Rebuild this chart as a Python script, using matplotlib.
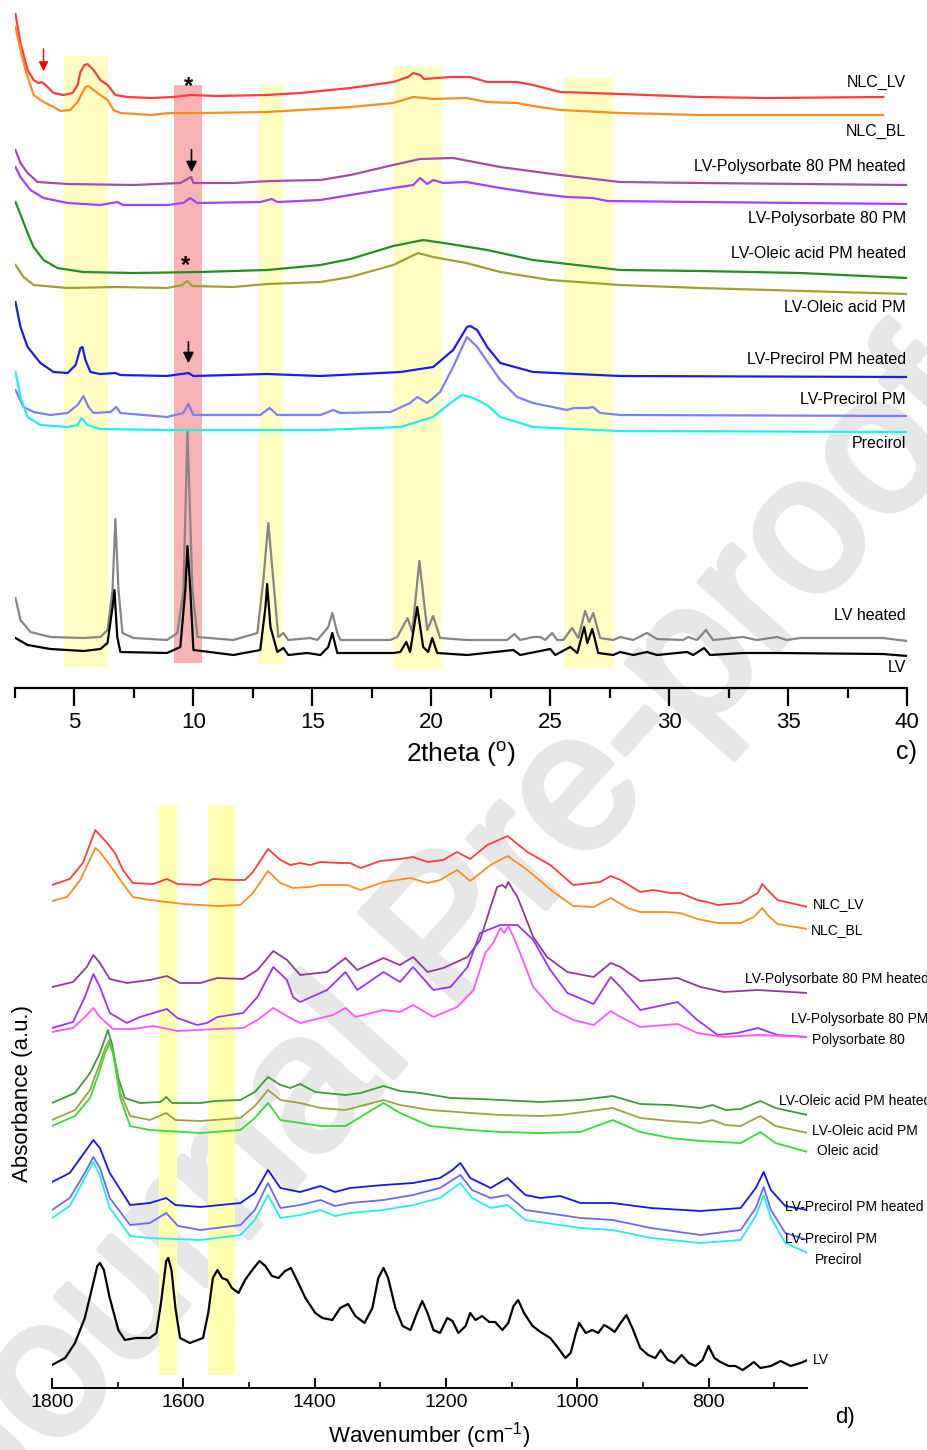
import matplotlib
matplotlib.use("Agg")
import matplotlib.pyplot as plt
import matplotlib.patheffects as pe

plt.rcParams['font.family'] = ['Liberation Sans', 'DejaVu Sans']

# ---------------- XRD (panel c) ----------------
tt_nlc_lv = [2.52, 2.73, 3.03, 3.28, 3.49, 3.61, 3.74, 3.87, 4.12, 4.54, 4.92, 5.13, 5.25, 5.42, 5.55, 5.67, 5.80,
             6.09, 6.39, 6.72, 7.23, 8.19, 9.16, 9.87, 11.0, 13.1, 14.5, 16.6, 18.4, 19.03, 19.24, 19.53, 19.7,
             20.8, 21.64, 22.35, 23.61, 24.28, 25.42, 27.94, 31.3, 34.1, 39.0]
i_nlc_lv = [674, 645, 618, 608, 605, 606, 604, 601, 595, 593, 595, 603, 616, 623, 624, 621, 618,
            608, 603, 593, 591, 590, 591, 593, 592, 593, 595, 600, 606, 611, 615, 613, 609,
            611, 611, 606, 606, 603, 596, 594, 591, 590, 591]

tt_nlc_bl = [2.52, 2.73, 2.94, 3.28, 3.70, 4.12, 4.41, 4.83, 5.13, 5.46, 5.59, 5.80, 6.09, 6.39, 6.64, 6.93,
             8.19, 9.03, 10.29, 13.1, 14.5, 16.6, 18.4, 19.24, 20.08, 21.47, 22.35, 23.61, 24.28, 25.42,
             27.94, 31.3, 39.0]
i_nlc_bl = [661, 638, 618, 593, 586, 581, 577, 578, 586, 601, 602, 598, 593, 588, 578, 575,
            573, 575, 575, 576, 578, 581, 585, 591, 589, 590, 586, 585, 582, 578,
            575, 573, 573]

tt_ps_heat = [2.52, 2.73, 3.03, 3.45, 4.71, 7.48, 9.45, 9.74, 9.91, 10.0, 11.68, 13.24, 15.34, 16.6, 18.4,
              19.53, 20.92, 22.9, 25.42, 27.94, 31.3, 40.0]
i_ps_heat = [538, 525, 515, 506, 504, 503, 505, 509, 511, 505, 505, 507, 508, 513, 523,
             529, 530, 521, 513, 506, 505, 503]

tt_ps_pm = [2.52, 2.73, 3.15, 3.70, 4.71, 6.09, 6.80, 7.05, 8.89, 9.57, 9.87, 10.16, 12.81, 13.3, 13.53,
            15.34, 16.6, 18.4, 19.24, 19.53, 19.83, 20.08, 20.5, 21.47, 22.9, 24.28, 25.7, 26.8, 27.4,
            31.3, 40.0]
i_ps_pm = [521, 511, 498, 490, 485, 483, 486, 483, 483, 485, 490, 485, 486, 489, 486,
           488, 493, 500, 503, 510, 504, 508, 505, 506, 500, 495, 491, 490, 487,
           486, 484]

tt_oa_heat = [2.52, 2.82, 3.03, 3.28, 3.70, 4.28, 5.37, 7.48, 10.29, 13.1, 15.34, 16.6, 18.4, 19.66,
              20.8, 22.35, 24.28, 27.94, 31.3, 35.5, 40.0]
i_oa_heat = [486, 468, 455, 441, 428, 420, 416, 415, 416, 418, 423, 429, 442, 448,
             444, 438, 428, 418, 417, 415, 410]

tt_oa_pm = [2.52, 2.86, 3.28, 4.71, 6.8, 8.89, 9.53, 9.74, 9.95, 11.68, 13.1, 15.34, 16.6, 18.4, 19.45,
            20.08, 21.47, 22.9, 25.0, 27.94, 31.3, 40.0]
i_oa_pm = [423, 411, 403, 400, 401, 400, 403, 407, 402, 401, 404, 406, 411, 423, 435,
           431, 425, 416, 408, 403, 400, 394]

tt_pc_heat = [2.52, 2.73, 3.03, 3.57, 4.12, 4.71, 5.05, 5.25, 5.34, 5.46, 5.67, 6.09, 6.72, 6.93, 8.89,
              9.79, 10.0, 13.1, 15.34, 18.7, 20.08, 20.92, 21.5, 21.64, 21.93, 22.35, 22.9, 24.28,
              27.94, 40.0]
i_pc_heat = [386, 361, 341, 325, 316, 315, 323, 340, 341, 328, 316, 314, 315, 313, 312,
             315, 312, 314, 312, 316, 321, 338, 361, 362, 358, 341, 325, 316,
             312, 311]

tt_pc_pm = [2.52, 2.86, 3.28, 3.99, 4.71, 5.13, 5.38, 5.59, 5.80, 6.51, 6.76, 6.93, 8.89, 9.57, 9.79, 10.0,
            12.81, 13.2, 13.53, 15.34, 15.88, 16.18, 18.28, 19.11, 19.41, 19.83, 20.37, 20.92, 21.5,
            21.93, 22.9, 23.61, 24.28, 25.7, 26.0, 26.56, 26.8, 27.1, 27.94, 40.0]
i_pc_pm = [298, 281, 276, 273, 275, 283, 292, 281, 275, 276, 281, 275, 271, 275, 284, 273,
           273, 280, 273, 273, 278, 275, 276, 285, 291, 285, 296, 321, 351,
           341, 308, 291, 285, 278, 280, 280, 281, 275, 273, 272]

tt_prec = [2.52, 2.73, 3.03, 3.57, 4.71, 5.13, 5.30, 5.55, 6.09, 8.89, 15.34, 18.7, 20.08, 20.8, 21.3,
           21.77, 22.35, 22.9, 24.28, 27.94, 40.0]
i_prec = [316, 291, 271, 263, 261, 263, 270, 263, 259, 258, 258, 261, 271, 285, 293,
          290, 283, 271, 261, 257, 256]

tt_lv_heat = [2.52, 2.73, 3.15, 3.99, 5.38, 6.09, 6.39, 6.60, 6.72, 6.85, 7.02, 7.48, 8.89, 9.33, 9.58,
              9.75, 9.96, 10.17, 11.68, 12.69, 12.94, 13.15, 13.36, 13.57, 13.78, 13.99, 14.91, 15.21,
              15.67, 15.84, 16.05, 16.18, 18.28, 18.57, 19.0, 19.2, 19.5, 19.83, 20.08, 20.37, 21.51,
              23.19, 23.49, 23.74, 24.29, 24.58, 24.79, 25.08, 25.29, 25.55, 25.92, 26.18, 26.47, 26.64,
              26.81, 27.1, 27.65, 27.94, 28.49, 29.07, 29.49, 30.59, 30.8, 31.17, 31.55, 31.85, 33.11,
              33.69, 34.53, 34.95, 35.5, 38.99, 40.0]
i_lv_heat = [90, 68, 56, 51, 50, 51, 58, 98, 169, 98, 55, 50, 48, 55, 98,
             256, 98, 51, 48, 55, 108, 165, 108, 51, 55, 48, 50, 48,
             61, 75, 55, 48, 48, 51, 70, 56, 127, 58, 72, 50, 48,
             48, 54, 48, 51, 51, 48, 55, 48, 48, 60, 50, 77, 66,
             75, 50, 48, 51, 48, 55, 49, 48, 51, 48, 58, 48, 51,
             48, 51, 48, 50, 50, 47]

tt_lv = [2.52, 3.03, 3.99, 5.38, 6.09, 6.39, 6.60, 6.68, 6.80, 6.93, 8.89, 9.45, 9.66, 9.75, 9.87, 10.0,
         11.68, 12.81, 13.03, 13.1, 13.24, 13.53, 13.78, 13.99, 14.78, 15.34, 15.67, 15.84, 16.05,
         18.4, 18.7, 18.95, 19.11, 19.41, 19.66, 19.87, 20.04, 20.25, 21.51, 23.45, 23.74, 25.0,
         25.21, 25.84, 26.14, 26.43, 26.56, 26.77, 27.02, 27.65, 27.94, 28.49, 29.07, 29.49, 30.76,
         31.01, 31.47, 31.72, 33.11, 34.53, 38.99, 40.0]
i_lv = [50, 43, 39, 37, 39, 45, 81, 98, 51, 36, 35, 41, 98, 142, 98, 38,
        33, 38, 81, 104, 61, 36, 40, 33, 35, 33, 41, 55, 35,
        35, 36, 46, 36, 81, 41, 36, 50, 35, 33, 38, 33, 39,
        33, 41, 35, 61, 45, 59, 35, 33, 36, 33, 36, 33, 36,
        33, 40, 33, 35, 35, 34, 32]

xrd_series = [
    (tt_nlc_lv, i_nlc_lv, '#ff3b3b', 'NLC_LV'),
    (tt_nlc_bl, i_nlc_bl, '#ff8c1a', 'NLC_BL'),
    (tt_ps_heat, i_ps_heat, '#a64ca6', 'LV-Polysorbate 80 PM heated'),
    (tt_ps_pm, i_ps_pm, '#a640ff', 'LV-Polysorbate 80 PM'),
    (tt_oa_heat, i_oa_heat, '#238e23', 'LV-Oleic acid PM heated'),
    (tt_oa_pm, i_oa_pm, '#a0a030', 'LV-Oleic acid PM'),
    (tt_pc_heat, i_pc_heat, '#1c1cf0', 'LV-Precirol PM heated'),
    (tt_pc_pm, i_pc_pm, '#7f7ff5', 'LV-Precirol PM'),
    (tt_prec, i_prec, '#1cf0f0', 'Precirol'),
    (tt_lv_heat, i_lv_heat, '#858585', 'LV heated'),
    (tt_lv, i_lv, '#000000', 'LV'),
]
xrd_label_y = [606, 557, 521, 470, 434, 380, 328, 288, 244, 72, 21]

# highlighted 2theta regions: (start, end, bottom, top, colour)
xrd_bands = [(4.58, 6.39, 21, 632, '#ffffc4'), (9.20, 10.38, 25, 603, '#f8b4b4'),
             (12.77, 13.78, 24, 603, '#ffffc4'), (18.40, 20.46, 19, 622, '#ffffc4'),
             (25.59, 27.65, 20, 610, '#ffffc4')]

# ---------------- FTIR (panel d) ----------------
wn_nlc_lv = [1800, 1773, 1753, 1734, 1716, 1704, 1692, 1677, 1646, 1625, 1609, 1574, 1555, 1524, 1506, 1494,
             1471, 1452, 1437, 1422, 1407, 1391, 1361, 1346, 1330, 1300, 1270, 1250, 1228, 1204, 1183, 1163,
             1137, 1106, 1076, 1041, 1006, 965, 949, 934, 904, 884, 858, 843, 817, 802, 786, 751, 725, 718,
             710, 695, 649]
a_nlc_lv = [503, 509, 525, 558, 545, 535, 518, 505, 504, 509, 504, 503, 509, 508, 508, 516,
            539, 528, 523, 525, 523, 526, 525, 525, 520, 527, 529, 531, 526, 528, 536, 529,
            543, 552, 536, 523, 503, 506, 512, 508, 496, 498, 495, 495, 488, 486, 483, 485, 495, 504,
            498, 488, 481]

wn_nlc_bl = [1800, 1777, 1757, 1734, 1727, 1712, 1696, 1677, 1651, 1625, 1600, 1548, 1513, 1494, 1471, 1452,
             1433, 1407, 1391, 1350, 1330, 1295, 1254, 1228, 1209, 1183, 1163, 1132, 1106, 1076, 1036, 1006,
             975, 949, 923, 904, 863, 843, 817, 786, 751, 731, 718, 710, 695, 649]
a_nlc_bl = [487, 491, 508, 540, 536, 523, 508, 491, 488, 486, 484, 482, 483, 495, 517, 505,
            500, 501, 503, 503, 498, 506, 510, 505, 508, 518, 507, 523, 532, 518, 496, 482,
            481, 490, 480, 476, 476, 475, 469, 465, 465, 471, 480, 473, 464, 459]

wn_ps_heat = [1800, 1768, 1747, 1737, 1727, 1712, 1686, 1651, 1625, 1605, 1574, 1548, 1509, 1487, 1463, 1442,
              1422, 1381, 1353, 1335, 1295, 1270, 1250, 1228, 1204, 1167, 1148, 1132, 1122, 1114, 1109, 1105,
              1097, 1091, 1067, 1046, 1015, 975, 949, 934, 904, 847, 812, 777, 725, 649]
a_ps_heat = [401, 406, 421, 433, 425, 409, 405, 408, 412, 405, 405, 410, 409, 418, 437, 428,
             413, 416, 430, 418, 430, 423, 431, 416, 420, 431, 448, 481, 501, 503, 500, 506,
             497, 491, 451, 431, 416, 411, 425, 421, 407, 410, 401, 396, 398, 395]

wn_ps_pm = [1800, 1768, 1750, 1737, 1727, 1712, 1686, 1666, 1625, 1609, 1579, 1564, 1548, 1509, 1487, 1463,
            1442, 1433, 1422, 1381, 1353, 1335, 1295, 1270, 1250, 1219, 1193, 1167, 1148, 1117, 1091, 1067,
            1041, 1015, 975, 949, 934, 904, 847, 817, 786, 756, 725, 695, 649]
a_ps_pm = [360, 366, 391, 414, 401, 375, 365, 371, 379, 370, 363, 365, 371, 375, 391, 421,
           408, 391, 386, 398, 416, 398, 416, 406, 421, 398, 401, 421, 455, 463, 463, 448,
           418, 395, 384, 411, 401, 378, 386, 368, 353, 355, 360, 353, 351]

wn_ps80 = [1800, 1768, 1750, 1737, 1727, 1707, 1677, 1646, 1609, 1548, 1509, 1487, 1463, 1437, 1422, 1372,
           1353, 1338, 1295, 1270, 1250, 1219, 1183, 1158, 1140, 1128, 1117, 1111, 1105, 1097, 1087, 1067,
           1036, 1006, 975, 949, 934, 904, 847, 817, 777, 725, 649]
a_ps80 = [356, 360, 371, 380, 371, 359, 359, 362, 357, 359, 360, 368, 380, 370, 365, 373,
          380, 371, 378, 376, 383, 371, 381, 398, 435, 445, 460, 455, 462, 451, 435, 401,
          378, 368, 363, 377, 371, 361, 364, 355, 351, 353, 351]

wn_oa_heat = [1800, 1765, 1742, 1727, 1719, 1715, 1709, 1699, 1689, 1666, 1635, 1626, 1617, 1574, 1552, 1513,
              1491, 1471, 1452, 1437, 1422, 1399, 1353, 1330, 1295, 1270, 1239, 1193, 1148, 1117, 1056, 1026,
              995, 946, 904, 858, 812, 794, 774, 751, 721, 698, 649]
a_oa_heat = [285, 295, 315, 335, 350, 358, 345, 310, 290, 285, 286, 291, 285, 285, 287, 288,
             296, 311, 303, 300, 304, 296, 293, 295, 302, 297, 295, 290, 289, 288, 286, 287,
             288, 292, 284, 283, 280, 283, 278, 279, 287, 280, 273]

wn_oa_pm = [1800, 1765, 1742, 1727, 1719, 1713, 1707, 1696, 1681, 1651, 1626, 1612, 1574, 1513, 1491, 1471,
            1452, 1422, 1391, 1353, 1295, 1270, 1224, 1163, 1117, 1056, 1026, 946, 904, 858, 812, 794, 774,
            751, 721, 698, 649]
a_oa_pm = [268, 278, 298, 325, 340, 348, 335, 295, 272, 268, 275, 268, 267, 270, 282, 298,
           288, 285, 280, 278, 288, 283, 278, 275, 273, 272, 273, 280, 270, 267, 265, 268, 263,
           262, 272, 262, 255]

wn_oleic = [1800, 1765, 1742, 1727, 1719, 1712, 1706, 1696, 1681, 1651, 1574, 1513, 1491, 1471, 1452, 1422,
            1391, 1353, 1295, 1270, 1224, 1163, 1117, 1056, 995, 946, 904, 858, 812, 751, 721, 698, 649]
a_oleic = [262, 272, 290, 318, 335, 345, 332, 290, 262, 258, 255, 258, 270, 285, 268, 265,
           262, 262, 285, 275, 262, 258, 256, 255, 256, 268, 256, 250, 247, 245, 256, 245, 236]

wn_pc_heat = [1800, 1773, 1750, 1737, 1727, 1712, 1681, 1651, 1626, 1612, 1574, 1513, 1491, 1471, 1452, 1422,
              1391, 1369, 1346, 1295, 1250, 1209, 1190, 1178, 1163, 1132, 1106, 1079, 1056, 1026, 995, 946,
              888, 812, 751, 728, 716, 705, 683, 649]
a_pc_heat = [206, 215, 236, 248, 240, 215, 183, 185, 190, 183, 181, 185, 195, 218, 200, 196,
             202, 196, 200, 203, 205, 210, 218, 225, 210, 200, 210, 193, 190, 192, 185, 185,
             180, 177, 180, 200, 216, 198, 182, 178]

wn_pc_pm = [1800, 1773, 1750, 1737, 1727, 1712, 1681, 1651, 1626, 1608, 1574, 1513, 1491, 1471, 1452, 1422,
            1391, 1369, 1346, 1295, 1250, 1209, 1178, 1160, 1132, 1106, 1079, 1026, 995, 946, 888, 812,
            751, 728, 716, 705, 683, 649]
a_pc_pm = [178, 190, 215, 231, 220, 190, 163, 165, 175, 162, 158, 163, 178, 205, 180, 183,
           188, 182, 185, 188, 193, 200, 213, 198, 190, 193, 178, 173, 170, 168, 160, 153,
           158, 180, 201, 178, 155, 148]

wn_prec = [1800, 1773, 1750, 1737, 1727, 1712, 1681, 1651, 1574, 1513, 1491, 1471, 1452, 1422, 1391, 1369,
           1346, 1295, 1250, 1209, 1178, 1160, 1132, 1106, 1079, 1026, 995, 946, 888, 812, 751, 728, 716,
           705, 683, 649]
a_prec = [170, 182, 210, 226, 212, 180, 152, 150, 148, 153, 168, 193, 170, 173, 178, 172,
          175, 178, 183, 190, 205, 190, 180, 183, 168, 163, 160, 158, 150, 145, 148, 172, 193,
          170, 145, 135]

wn_lv = [1800, 1780, 1765, 1750, 1739, 1731, 1727, 1721, 1712, 1699, 1689, 1673, 1651, 1641, 1634, 1626,
         1623, 1618, 1612, 1605, 1590, 1570, 1562, 1555, 1548, 1541, 1533, 1526, 1516, 1506, 1495, 1484,
         1475, 1465, 1455, 1445, 1436, 1427, 1414, 1399, 1388, 1373, 1361, 1349, 1338, 1324, 1312, 1303,
         1295, 1288, 1277, 1266, 1254, 1244, 1236, 1228, 1219, 1209, 1198, 1190, 1181, 1170, 1163, 1155,
         1145, 1134, 1125, 1114, 1105, 1097, 1090, 1081, 1068, 1056, 1041, 1029, 1018, 1010, 1002, 997,
         987, 977, 968, 959, 951, 943, 934, 925, 916, 904, 892, 881, 873, 862, 852, 841, 830, 820, 809,
         800, 791, 782, 769, 759, 748, 739, 731, 721, 705, 690, 675, 660, 649]
a_lv = [23, 30, 45, 70, 100, 122, 125, 118, 90, 58, 48, 50, 50, 55, 85, 127,
        130, 118, 80, 50, 45, 50, 75, 110, 118, 110, 108, 100, 95, 108, 118, 127,
        122, 112, 110, 117, 120, 108, 90, 75, 70, 68, 80, 84, 72, 65, 80, 110,
        120, 110, 80, 62, 58, 75, 87, 75, 58, 55, 70, 67, 55, 62, 75, 68,
        72, 66, 66, 58, 65, 82, 88, 75, 62, 56, 50, 40, 30, 35, 55, 65,
        55, 58, 55, 63, 60, 56, 65, 73, 60, 40, 33, 30, 38, 28, 25, 33, 25, 22, 28,
        42, 30, 26, 22, 22, 18, 22, 26, 20, 22, 27, 22, 25, 28]

ftir_series = [
    (wn_nlc_lv, a_nlc_lv, '#ff3b3b', 'NLC_LV'),
    (wn_nlc_bl, a_nlc_bl, '#ff8c1a', 'NLC_BL'),
    (wn_ps_heat, a_ps_heat, '#933a93', 'LV-Polysorbate 80 PM heated'),
    (wn_ps_pm, a_ps_pm, '#9933ff', 'LV-Polysorbate 80 PM'),
    (wn_ps80, a_ps80, '#ff55ff', 'Polysorbate 80'),
    (wn_oa_heat, a_oa_heat, '#3d9a3d', 'LV-Oleic acid PM heated'),
    (wn_oa_pm, a_oa_pm, '#a0a040', 'LV-Oleic acid PM'),
    (wn_oleic, a_oleic, '#33dd33', 'Oleic acid'),
    (wn_pc_heat, a_pc_heat, '#1515ee', 'LV-Precirol PM heated'),
    (wn_pc_pm, a_pc_pm, '#6a6af0', 'LV-Precirol PM'),
    (wn_prec, a_prec, '#22eeee', 'Precirol'),
    (wn_lv, a_lv, '#000000', 'LV'),
]
ftir_label_pos = [(641, 484), (644, 458), (745, 409), (675, 369), (643, 348), (693, 287),
                  (643, 257), (635, 237), (684, 181), (683, 149), (638, 128), (641, 28)]
ftir_bands = [(1637, 1610), (1562, 1521)]

W, H = 927, 1450
fig = plt.figure(figsize=(W / 100, H / 100), dpi=100)

# watermark behind both panels
wm = fig.text(452 / W, 1 - 936 / H, 'Journal Pre-proof', rotation=48, fontsize=140,
              color='#e7e7e7', ha='center', va='center', zorder=-5)
wm.set_path_effects([pe.withStroke(linewidth=5, foreground='#e7e7e7')])

# ----- panel c -----
ax1 = fig.add_axes([15 / W, 1 - 688 / H, 892 / W, 678 / H])
ax1.patch.set_alpha(0)
for x0, x1, y0, y1, c in xrd_bands:
    ax1.fill_between([x0, x1], y0, y1, color=c, lw=0, zorder=0)
for (x, y, c, name), ly in zip(xrd_series, xrd_label_y):
    ax1.plot(x, y, color=c, lw=1.6, zorder=2)
    ax1.text(39.95, ly, name, ha='right', va='center', fontsize=11.5, clip_on=False)

ax1.annotate('', xy=(3.70, 614), xytext=(3.70, 642),
             arrowprops=dict(arrowstyle='-|>', color='red', lw=1, mutation_scale=14))
for xa, ytop, ybot in [(9.92, 541, 513), (9.79, 349, 322)]:
    ax1.annotate('', xy=(xa, ybot), xytext=(xa, ytop),
                 arrowprops=dict(arrowstyle='-|>', color='black', lw=1.2, mutation_scale=16))
ax1.text(9.79, 601, '*', ha='center', va='center', fontsize=17, fontweight='bold')
ax1.text(9.66, 422, '*', ha='center', va='center', fontsize=17, fontweight='bold')

ax1.set_xlim(2.5, 40)
ax1.set_ylim(0, 678)
ax1.set_xticks(range(5, 41, 5))
ax1.set_xticks([x * 2.5 for x in range(1, 17)], minor=True)
ax1.set_yticks([])
for s in ['left', 'right', 'top']:
    ax1.spines[s].set_visible(False)
ax1.spines['bottom'].set_linewidth(1.6)
ax1.tick_params(axis='x', which='major', length=13, width=1.6, labelsize=16, pad=4)
ax1.tick_params(axis='x', which='minor', length=7, width=1.6)
ax1.set_xlabel(r'2theta ($\mathregular{^o}$)', fontsize=19, labelpad=5)
fig.text(917 / W, 1 - 752 / H, 'c)', ha='right', va='center', fontsize=18)

# ----- panel d -----
ax2 = fig.add_axes([52 / W, 1 - 1388 / H, 755 / W, 590 / H])
ax2.patch.set_alpha(0)
for x0, x1 in ftir_bands:
    ax2.fill_between([x0, x1], 13, 583, color='#ffffb0', lw=0, zorder=0)
for (x, y, c, name), (lx, ly) in zip(ftir_series, ftir_label_pos):
    ax2.plot(x, y, color=c, lw=1.6 if c == '#000000' else 1.3, zorder=2)
    ax2.text(lx, ly, name, ha='left', va='center', fontsize=10, clip_on=False)

ax2.set_xlim(1800, 650)
ax2.set_ylim(0, 590)
ax2.set_xticks(range(1800, 700, -200))
ax2.set_xticks(range(1700, 640, -100), minor=True)
ax2.set_yticks([])
for s in ['left', 'right', 'top']:
    ax2.spines[s].set_visible(False)
ax2.spines['bottom'].set_linewidth(1.4)
ax2.tick_params(axis='x', which='major', direction='in', length=7, width=1.4, labelsize=14, pad=4)
ax2.tick_params(axis='x', which='minor', direction='in', length=4, width=1.2)
ax2.set_xlabel(r'Wavenumber (cm$\mathregular{^{-1}}$)', fontsize=16, labelpad=7)
ax2.set_ylabel('Absorbance (a.u.)', fontsize=16, labelpad=14)
fig.text(845 / W, 1 - 1418 / H, 'd)', ha='center', va='center', fontsize=16)

fig.savefig('out.png', dpi=100)
